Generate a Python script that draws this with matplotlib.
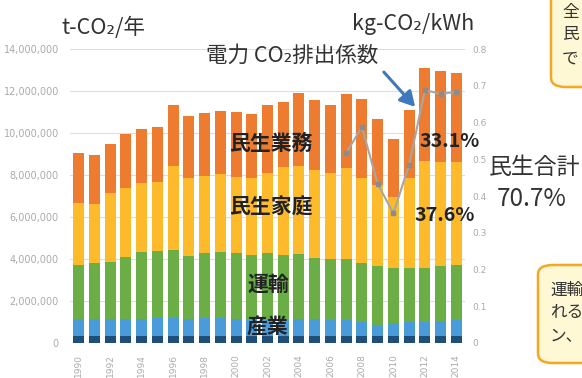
import numpy as np
import matplotlib.pyplot as plt
from matplotlib.patches import FancyBboxPatch

plt.rcParams['font.family'] = ['Noto Sans CJK JP', 'DejaVu Sans']

years = list(range(1990, 2015))

# 各部門の排出量 (t-CO2), 下から順に積み上げ
sangyo_base = [330000, 330000, 330000, 330000, 330000, 340000, 340000, 330000, 330000, 330000,
               330000, 330000, 330000, 330000, 330000, 330000, 330000, 340000, 340000, 330000,
               330000, 330000, 340000, 340000, 340000]
sangyo = [800000, 800000, 800000, 820000, 830000, 850000, 860000, 800000, 840000, 850000,
          830000, 800000, 770000, 800000, 820000, 790000, 760000, 760000, 660000, 530000,
          610000, 660000, 660000, 700000, 760000]
unyu = [2580000, 2660000, 2740000, 2960000, 3160000, 3190000, 3230000, 3030000, 3130000, 3170000,
        3110000, 3060000, 3170000, 3060000, 3070000, 2910000, 2890000, 2900000, 2790000, 2820000,
        2620000, 2600000, 2560000, 2640000, 2610000]
katei = [2940000, 2830000, 3290000, 3260000, 3280000, 3300000, 4000000, 3680000, 3670000, 3700000,
         3650000, 3650000, 3840000, 4210000, 4210000, 4210000, 4100000, 4320000, 4050000, 3840000,
         3410000, 4250000, 5110000, 4950000, 4920000]
gyomu = [2380000, 2330000, 2320000, 2570000, 2570000, 2620000, 2900000, 2970000, 2970000, 3000000,
         3080000, 3060000, 3220000, 3060000, 3460000, 3330000, 3250000, 3520000, 3780000, 3130000,
         2740000, 3260000, 4410000, 4320000, 4210000]

coef_years = [2007, 2008, 2009, 2010, 2011, 2012, 2013, 2014]
coef = [0.517, 0.588, 0.433, 0.353, 0.485, 0.688, 0.678, 0.683]

colors = ['#1F4E79', '#4A9BDA', '#6AAE45', '#FDBA2B', '#ED7B30']
series = [sangyo_base, sangyo, unyu, katei, gyomu]

W, H = 582, 378
fig = plt.figure(figsize=(W / 100, H / 100), dpi=100)


def fx(px):
    return px / W


def fy(py):
    return 1 - py / H


ax = fig.add_axes([fx(70), fy(343), fx(465) - fx(70), fy(49) - fy(343)])
x = np.arange(len(years))
bottom = np.zeros(len(years))
for vals, c in zip(series, colors):
    ax.bar(x, vals, width=0.7, bottom=bottom, color=c, zorder=2)
    bottom += np.array(vals)

ax.set_xlim(-0.55, len(years) - 0.45)
ax.set_ylim(0, 14000000)
ax.set_yticks(range(0, 14000001, 2000000))
ax.set_yticklabels([f'{v:,}' for v in range(0, 14000001, 2000000)], fontsize=7, color='#aaaaaa',
                   family='DejaVu Sans')
ax.set_xticks(x[::2])
ax.set_xticklabels([str(y) for y in years[::2]], rotation=90, fontsize=6.5, color='#aaaaaa',
                   family='DejaVu Sans')
ax.tick_params(axis='y', length=0, pad=8)
ax.tick_params(axis='x', length=0, pad=8)
ax.grid(axis='y', color='#dddddd', linewidth=0.8, zorder=0)
for s in ax.spines.values():
    s.set_visible(False)

ax2 = ax.twinx()
ax2.set_ylim(0, 0.8)
ax2.set_yticks(np.arange(0, 0.81, 0.1))
ax2.set_yticklabels(['0'] + [f'{v:.1f}' for v in np.arange(0.1, 0.81, 0.1)], fontsize=6.5,
                    color='#aaaaaa', family='DejaVu Sans')
ax2.tick_params(length=0, pad=5)
for s in ax2.spines.values():
    s.set_visible(False)
cx = [years.index(y) for y in coef_years]
ax2.plot(cx, coef, color='#a6a6a6', linewidth=1.5, marker='s', markersize=3,
         markerfacecolor='#8c8c8c', markeredgecolor='#8c8c8c', zorder=3)

# 単位
fig.text(fx(61), fy(28), 't-CO₂/年', fontsize=15.5, color='#333333', va='center')
fig.text(fx(352), fy(24), 'kg-CO₂/kWh', fontsize=15.5, color='#333333', va='center')

# 凡例代わりのラベル
fig.text(fx(206), fy(56), '電力 CO₂排出係数', fontsize=15.5, color='#333333', va='center')
ax.annotate('', xy=(fx(417), fy(109)), xytext=(fx(382), fy(70)), xycoords='figure fraction',
            arrowprops=dict(arrowstyle='-|>,head_length=0.9,head_width=0.5', color='#3F78BD',
                            lw=2.2))

bold = dict(fontsize=15, fontweight='bold', color='#222222', va='center')
fig.text(fx(229), fy(143), '民生業務', **bold)
fig.text(fx(229), fy(207), '民生家庭', **bold)
fig.text(fx(247), fy(284), '運輸', **bold)
fig.text(fx(247), fy(327), '産業', **bold)
pct = dict(fontsize=14.2, fontweight='bold', color='#222222', va='center')
fig.text(fx(419), fy(142), '33.1%', **pct)
fig.text(fx(414), fy(215), '37.6%', **pct)

fig.text(fx(489), fy(168), '民生合計', fontsize=16.5, color='#333333', va='center')
fig.text(fx(497), fy(199), '70.7%', fontsize=17.5, color='#333333', va='center')

# 右側の吹き出し (見切れ)
for (bx, by0, by1) in [(551, -20, 87), (538, 265, 363)]:
    box = FancyBboxPatch((fx(bx), fy(by1)), fx(80), fy(by0) - fy(by1), transform=fig.transFigure,
                         boxstyle='round,pad=0,rounding_size=0.025', facecolor='#FEF8D4',
                         edgecolor='#F5A623', linewidth=1.8)
    fig.patches.append(box)
for txt, py in [('全', 12), ('民', 35), ('で', 59)]:
    fig.text(fx(562), fy(py), txt, fontsize=12, color='#333333', va='center')
for txt, py in [('運輸', 290), ('れる', 313), ('ン、', 337)]:
    fig.text(fx(550), fy(py), txt, fontsize=12, color='#333333', va='center')

fig.savefig('out.png', dpi=100)
